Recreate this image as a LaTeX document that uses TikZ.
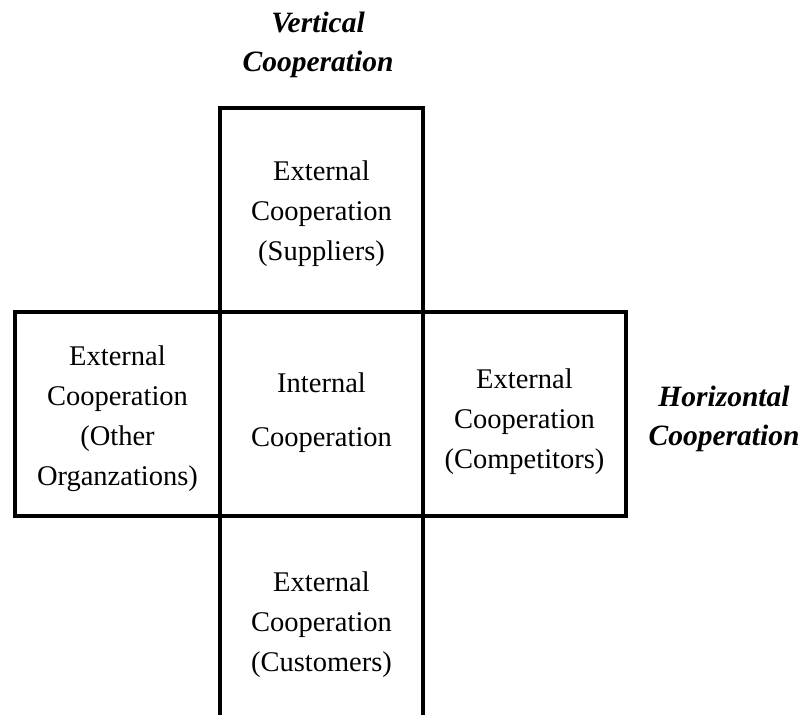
\documentclass[tikz,border=0pt]{standalone}
\usepackage{fontspec}
\setmainfont{Liberation Serif}
\usetikzlibrary{positioning}

\begin{document}
\begin{tikzpicture}[x=1pt,y=-1pt,
  wall/.style={line width=3.6pt},
  cell/.style={align=center,inner sep=0pt,anchor=base,font=\fontsize{28.5}{40}\selectfont},
  axislab/.style={cell,font=\fontsize{29.5}{39}\selectfont\bfseries\itshape}]
\useasboundingbox (0,0) rectangle (804,715);
% cross outline
\draw[wall] (220,715) -- (220,108) -- (423,108) -- (423,715);
\draw[wall] (15,312) rectangle (626,516);
% cells (base = last line)
\node[cell] (sup) at (321.5,260) {External\\Cooperation\\(Suppliers)};
\node[cell] (oth) at (117.5,485) {External\\Cooperation\\(Other\\Organzations)};
\node[cell] (int) at (321.5,446) {Internal\\[14pt]Cooperation};
\node[cell] (com) at (524.5,468) {External\\Cooperation\\(Competitors)};
\node[cell] (cus) at (321.5,671) {External\\Cooperation\\(Customers)};
% axes
\node[axislab] (vert) at (318,71) {Vertical\\Cooperation};
\node[axislab] (horz) at (724,445) {Horizontal\\Cooperation};
\end{tikzpicture}
\end{document}
